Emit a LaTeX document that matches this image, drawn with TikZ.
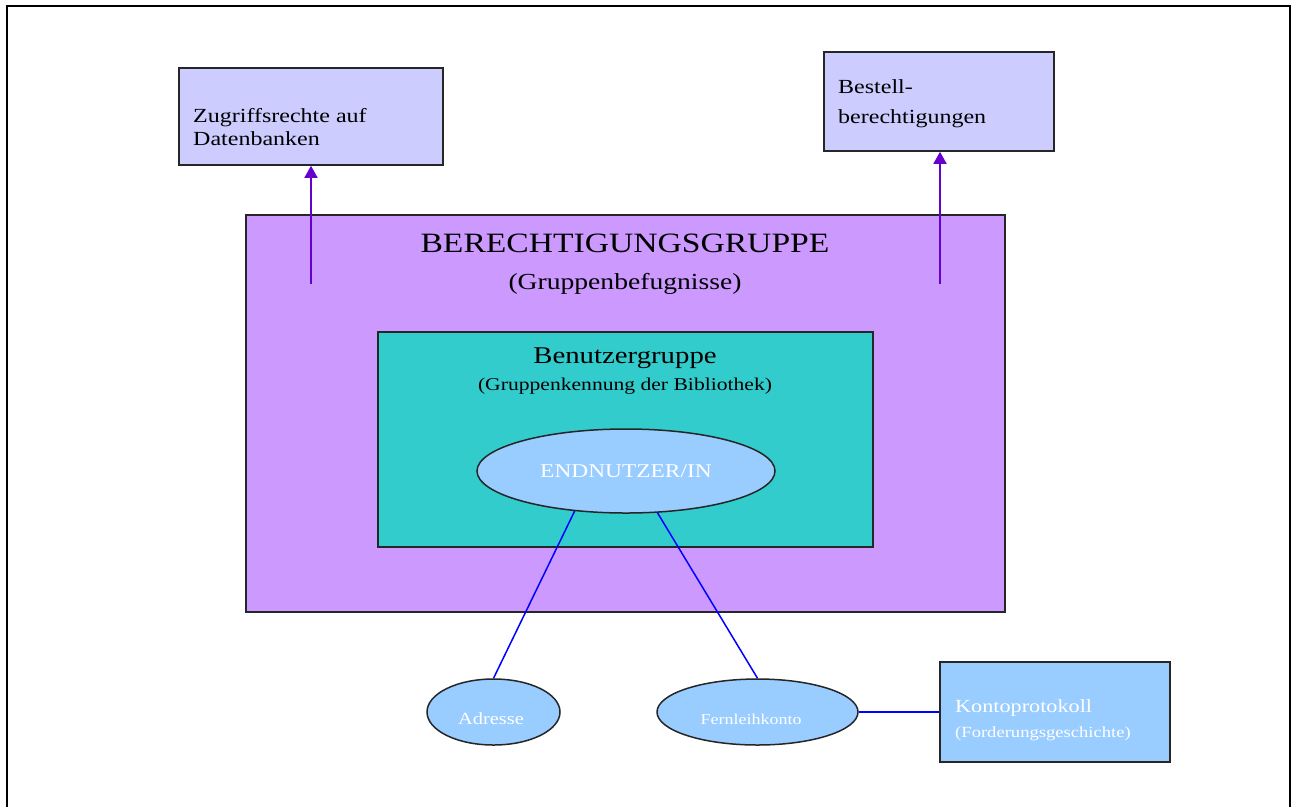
\documentclass[tikz,border=0pt]{standalone}
\usepackage{fontspec}
\setmainfont{Liberation Serif}[FakeStretch=1.2]
\usetikzlibrary{arrows.meta,shapes.geometric}
\definecolor{lav}{HTML}{CCCCFF}
\definecolor{purp}{HTML}{CC99FF}
\definecolor{teal2}{HTML}{33CCCC}
\definecolor{lblue}{HTML}{99CCFF}
\definecolor{arrcol}{HTML}{6600CC}
\definecolor{linecol}{HTML}{0000FF}
\newcommand{\fsz}[1]{\fontsize{#1}{#1}\selectfont}
\tikzset{
  box/.style={draw=black!85, line width=1.6pt, rectangle, inner sep=0pt},
  ell/.style={draw=black!85, line width=1.5pt, ellipse, inner sep=0pt, fill=lblue},
  txt/.style={inner sep=0pt, text=black},
  wtxt/.style={inner sep=0pt, text=white},
  arr/.style={draw=arrcol, line width=1.8pt, -{Triangle[width=13pt,length=12pt]}},
  con/.style={draw=linecol, line width=1.5pt},
  frame/.style={draw=black, line width=2pt}
}
\begin{document}
\begin{tikzpicture}[x=1pt,y=-1pt]
\useasboundingbox[fill=white] (0,0) rectangle (1292,807);
\draw[frame] (7,807) -- (7,6) -- (1290,6) -- (1290,807);
% top boxes
\node[box, fill=lav, minimum width=264pt, minimum height=97pt] (zug) at (311,116.5) {};
\node[txt, anchor=base west] (z1) at (193,122) {\fsz{20}Zugriffsrechte auf};
\node[txt, anchor=base west] (z2) at (193,145) {\fsz{20}Datenbanken};
\node[box, fill=lav, minimum width=230pt, minimum height=99pt] (best) at (939,101.5) {};
\node[txt, anchor=base west] (b1) at (838,93) {\fsz{20}Bestell-};
\node[txt, anchor=base west] (b2) at (838,123) {\fsz{20}berechtigungen};
% big group
\node[box, fill=purp, minimum width=759pt, minimum height=397pt] (ber) at (625.5,413.5) {};
\node[txt, anchor=base] (bt1) at (625,252) {\fsz{28}BERECHTIGUNGSGRUPPE};
\node[txt, anchor=base] (bt2) at (625,289) {\fsz{23}(Gruppenbefugnisse)};
\coordinate (a1) at (311,284);
\coordinate (a2) at (940,284);
\draw[arr] (a1) -- (a1 |- zug.south);
\draw[arr] (a2) -- (a2 |- best.south);
% user group
\node[box, fill=teal2, minimum width=495pt, minimum height=215pt] (ben) at (625.5,439.5) {};
\node[txt, anchor=base] (n1) at (625,363) {\fsz{24}Benutzergruppe};
\node[txt, anchor=base] (n2) at (625,390) {\fsz{18}(Gruppenkennung der Bibliothek)};
\node[ell, minimum width=298pt, minimum height=84pt] (end) at (626,471) {};
\node[wtxt, anchor=base] (e1) at (626,477) {\fsz{19.5}ENDNUTZER/IN};
% bottom
\node[ell, minimum width=133pt, minimum height=66pt] (adr) at (493.5,712) {};
\node[wtxt, anchor=base] (ad1) at (491,724) {\fsz{17}Adresse};
\node[ell, minimum width=201pt, minimum height=66pt] (fern) at (757.5,712) {};
\node[wtxt, anchor=base] (f1) at (751,724) {\fsz{15}Fernleihkonto};
\node[box, fill=lblue, minimum width=230pt, minimum height=100pt] (konto) at (1055,712) {};
\node[wtxt, anchor=base west] (k1) at (955,712) {\fsz{18.5}Kontoprotokoll};
\node[wtxt, anchor=base west] (k2) at (955,737) {\fsz{15.5}(Forderungsgeschichte)};
\draw[con] (end.218) -- (adr.north);
\draw[con] (end.307) -- (fern.north);
\draw[con] (fern.east) -- (konto.west);
\end{tikzpicture}
\end{document}
